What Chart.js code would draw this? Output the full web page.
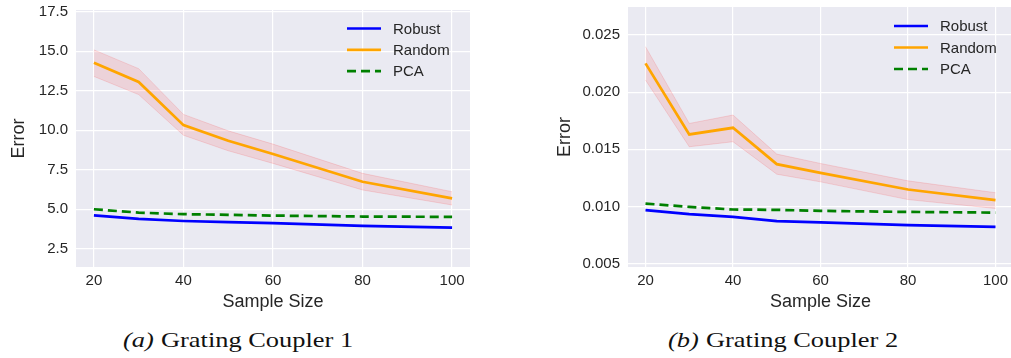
<!DOCTYPE html>
<html>
<head>
<meta charset="utf-8">
<script src="https://cdn.jsdelivr.net/npm/chart.js@4.4.0/dist/chart.umd.min.js"></script>
<style>
  body { margin: 0; width: 1011px; height: 358px; overflow: hidden; background: #fff; position: relative; }
  .panel { position: absolute; top: 0; }
  .caption { position: absolute; top: 327px; font-family: "Liberation Serif", serif; font-size: 22px; color: #111; white-space: nowrap; transform: scaleX(1.2); transform-origin: left center; }
  .caption i { margin-right: 6px; }
</style>
</head>
<body>
<div class="panel" style="left:0px"><canvas id="gc1" width="470" height="320"></canvas></div>
<div class="panel" style="left:540px"><canvas id="gc2" width="473" height="320"></canvas></div>
<div class="caption" style="left:123px"><i>(a)</i>Grating Coupler 1</div>
<div class="caption" style="left:668px"><i>(b)</i>Grating Coupler 2</div>
<script>
// sample sizes (x values)
const sampleSizes = [20, 30, 40, 50, 60, 80, 100];
const xTicks = [20, 40, 60, 80, 100];

// Grating Coupler 1
const gc1Robust = [4.62, 4.39, 4.26, 4.19, 4.12, 3.95, 3.84];
const gc1Random = [14.27, 13.05, 10.32, 9.33, 8.49, 6.74, 5.69];
const gc1RandomHi = [15.08, 13.89, 11.0, 9.96, 9.12, 7.27, 6.11];
const gc1RandomLo = [13.4, 12.25, 9.68, 8.70, 7.9, 6.22, 5.27];
const gc1Pca = [5.0, 4.79, 4.69, 4.65, 4.6, 4.54, 4.52];
const gc1YTicks = [2.5, 5.0, 7.5, 10.0, 12.5, 15.0, 17.5];

// Grating Coupler 2
const gc2Robust = [0.00967, 0.00932, 0.00909, 0.00871, 0.0086, 0.00836, 0.00821];
const gc2Random = [0.02252, 0.0163, 0.01688, 0.0137, 0.01294, 0.01148, 0.01055];
const gc2RandomHi = [0.02398, 0.01726, 0.018, 0.01458, 0.01376, 0.01224, 0.0112];
const gc2RandomLo = [0.02106, 0.01522, 0.01566, 0.01282, 0.01215, 0.0106, 0.00982];
const gc2Pca = [0.01025, 0.00996, 0.00973, 0.0097, 0.00961, 0.00952, 0.00946];
const gc2YTicks = [0.005, 0.010, 0.015, 0.020, 0.025];

const FONT = '"Liberation Sans", Arial, sans-serif';
const TEXT = '#262626';

function pts(ys) {
    return ys.map((y, i) => ({ x: sampleSizes[i], y: y }));
}

// axes background like seaborn darkgrid
const bgPlugin = {
    id: 'bg',
    beforeDraw(chart) {
        const a = chart.chartArea;
        const ctx = chart.ctx;
        ctx.save();
        ctx.fillStyle = '#EAEAF2';
        ctx.fillRect(a.left, a.top, a.right - a.left, a.bottom - a.top);
        ctx.restore();
    }
};

// matplotlib-style legend inside the axes, no frame
const legendPlugin = {
    id: 'mplLegend',
    afterDraw(chart, args, opts) {
        const ctx = chart.ctx;
        const items = chart.data.datasets.filter(d => d.inLegend);
        ctx.save();
        ctx.font = '15px ' + FONT;
        ctx.textBaseline = 'middle';
        items.forEach((d, i) => {
            const y = opts.y + i * opts.step;
            ctx.strokeStyle = d.borderColor;
            ctx.lineWidth = d.borderWidth;
            ctx.setLineDash(d.borderDash || []);
            ctx.beginPath();
            ctx.moveTo(opts.x, y);
            ctx.lineTo(opts.x + 34, y);
            ctx.stroke();
            ctx.setLineDash([]);
            ctx.fillStyle = TEXT;
            ctx.fillText(d.label, opts.x + 46, y + 1);
        });
        ctx.restore();
    }
};

function makeChart(id, robust, random, hi, lo, pca, yTicks, yMin, yMax, digits, cfg) {
    const ctx = document.getElementById(id).getContext('2d');
    return new Chart(ctx, {
        type: 'line',
        data: {
            datasets: [
                { label: 'Robust', inLegend: true, data: pts(robust), borderColor: '#0000FF', borderWidth: 2.7, order: 1 },
                { label: 'Random', inLegend: true, data: pts(random), borderColor: '#FFA500', borderWidth: 2.7, order: 2 },
                { label: 'PCA', inLegend: true, data: pts(pca), borderColor: '#008000', borderWidth: 2.7, borderDash: [9, 5], order: 0 },
                { label: 'lo', data: pts(lo), borderColor: 'rgba(255,0,0,0.12)', borderWidth: 1, order: 5 },
                { label: 'hi', data: pts(hi), borderColor: 'rgba(255,0,0,0.12)', borderWidth: 1, fill: '-1', backgroundColor: 'rgba(255,0,0,0.1)', order: 4 }
            ]
        },
        options: {
            responsive: false,
            animation: false,
            elements: { point: { radius: 0 }, line: { tension: 0 } },
            layout: { padding: { top: cfg.top, right: 0, left: 0, bottom: 0 } },
            plugins: {
                legend: { display: false },
                tooltip: { enabled: false },
                mplLegend: cfg.legend
            },
            scales: {
                x: {
                    type: 'linear',
                    min: 16,
                    max: 104,
                    afterBuildTicks: s => { s.ticks = xTicks.map(v => ({ value: v })); },
                    afterFit: s => { s.height = 53; s.paddingLeft = 0; s.paddingRight = 0; },
                    grid: { color: '#FFFFFF', lineWidth: 1.2, drawTicks: false },
                    border: { display: false },
                    ticks: { padding: 5, color: TEXT, font: { family: FONT, size: 15 } },
                    title: { display: true, text: 'Sample Size', color: TEXT, font: { family: FONT, size: 18 }, padding: { top: 0, bottom: 7 } }
                },
                y: {
                    min: yMin,
                    max: yMax,
                    afterBuildTicks: s => { s.ticks = yTicks.map(v => ({ value: v })); },
                    afterFit: s => { s.width = cfg.yWidth; s.paddingTop = 0; s.paddingBottom = 0; },
                    grid: { color: '#FFFFFF', lineWidth: 1.2, drawTicks: false },
                    border: { display: false },
                    ticks: { padding: 8, color: TEXT, font: { family: FONT, size: 15 }, callback: v => Number(v).toFixed(digits) },
                    title: { display: true, text: 'Error', color: TEXT, font: { family: FONT, size: 18 }, padding: { top: cfg.titlePad, bottom: 0 } }
                }
            }
        },
        plugins: [bgPlugin, legendPlugin]
    });
}

makeChart('gc1', gc1Robust, gc1Random, gc1RandomHi, gc1RandomLo, gc1Pca, gc1YTicks, 1.35, 17.6, 1,
    { top: 10, yWidth: 76, titlePad: 8, legend: { x: 347, y: 28.5, step: 21.3 } });
makeChart('gc2', gc2Robust, gc2Random, gc2RandomHi, gc2RandomLo, gc2Pca, gc2YTicks, 0.0047, 0.02745, 3,
    { top: 7, yWidth: 88, titlePad: 14, legend: { x: 354, y: 26, step: 21.5 } });
</script>
</body>
</html>
